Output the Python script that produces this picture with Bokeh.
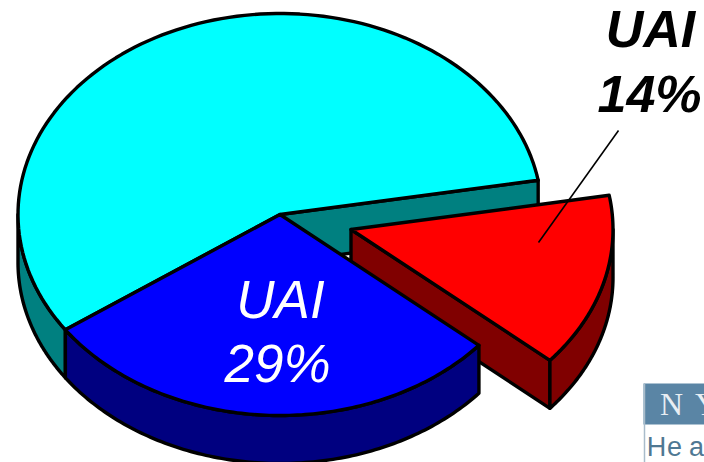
import numpy as np
from bokeh.plotting import figure
from bokeh.models import Range1d
from bokeh.core.properties import value
from bokeh.embed import file_html
from bokeh.resources import INLINE

# Pie slices, in the order they run anticlockwise from the start angle
slice_names = ["other", "UAI exploded", "UAI"]
shares = [57, 14, 29]
label_texts = ["UAI", "14%", "UAI", "29%"]
top_colors = {"other": "#00ffff", "UAI exploded": "#ff0000", "UAI": "#0000ff"}
side_colors = {"other": "#008080", "UAI exploded": "#800000", "UAI": "#000080"}

# Pie geometry in page pixels
CX, CY = 279.5, 214
RX, RY = 262, 201
DEPTH = 48
START_DEG = 9.8
EXPLODE = {"other": (0, 0), "UAI exploded": (71, 15), "UAI": (0, 0)}
EDGE = 3.4

# The SVG text baseline sits this fraction of an em below the requested y
BASELINE_SHIFT = 0.43

p = figure(width=704, height=462, output_backend="svg", toolbar_location=None,
           x_range=Range1d(0, 704), y_range=Range1d(462, 0), min_border=0)
p.axis.visible = False
p.grid.visible = False
p.outline_line_color = None


def rim(t0, t1, dx=0, dy=0, n=120):
    t = np.radians(np.linspace(t0, t1, n))
    return CX + dx + RX * np.cos(t), CY + dy - RY * np.sin(t)


def outline(xs, ys, fill):
    p.patch(list(xs), list(ys), fill_color=fill, line_color="black",
            line_width=EDGE, line_join="round")


def top(t0, t1, dx, dy, fill):
    x, y = rim(t0, t1, dx, dy)
    outline(np.r_[CX + dx, x], np.r_[CY + dy, y], fill)


def outer_wall(t0, t1, dx, dy, fill):
    x, y = rim(t0, t1, dx, dy)
    outline(np.r_[x, x[::-1]], np.r_[y, y[::-1] + DEPTH], fill)


def cut_wall(t, dx, dy, fill):
    x, y = rim(t, t, dx, dy, n=1)
    xs = [CX + dx, x[0], x[0], CX + dx]
    ys = [CY + dy, y[0], y[0] + DEPTH, CY + dy + DEPTH]
    outline(xs, ys, fill)


def label(xs, baselines, texts, color, size, font, style="normal"):
    ys = [b - BASELINE_SHIFT * size for b in baselines]
    p.text(xs, ys, text=texts, text_color=color, text_font=value(font),
           text_font_size=f"{size}px", text_font_style=style,
           text_align="center", text_baseline="alphabetic")


# Slice boundaries in degrees, measured anticlockwise from the start angle
# (the exploded slice runs clockwise from it, the large one anticlockwise)
large, small, mid = shares
a_small_end = START_DEG - small * 3.6
a_mid_end = a_small_end - mid * 3.6

# Large slice: outer wall at lower left, cut face at the back, then its top
outer_wall(180, a_mid_end + 360, 0, 0, side_colors["other"])
cut_wall(START_DEG, 0, 0, side_colors["other"])
top(START_DEG, a_mid_end + 360, 0, 0, top_colors["other"])

# Exploded slice
dx, dy = EXPLODE["UAI exploded"]
cut_wall(a_small_end, dx, dy, side_colors["UAI exploded"])
outer_wall(a_small_end, 0, dx, dy, side_colors["UAI exploded"])
top(a_small_end, START_DEG, dx, dy, top_colors["UAI exploded"])

# Front slice
outer_wall(a_mid_end, a_small_end, 0, 0, side_colors["UAI"])
top(a_mid_end, a_small_end, 0, 0, top_colors["UAI"])

# Leader line for the exploded slice
p.line([618, 538], [130, 242], line_color="black", line_width=1.6)

# Slice labels
label([650, 649], [51, 116], label_texts[:2], "black", 52,
      "Liberation Sans", "bold italic")
label([280, 277], [322, 386], label_texts[2:], "white", 53,
      "Liberation Sans", "italic")

# Institution logo, cropped by the page edge
LOGO = "#5a85a5"
p.quad(left=[643], right=[720], top=[383], bottom=[424], fill_color=LOGO, line_color=None)
p.line([644, 644], [383, 470], line_color="#a9bccb", line_width=1.5)
label([671, 706], [417, 417], ["N", "Y"], "#e8eef3", 32, "Liberation Serif")
label([656, 674, 696], [458, 458, 458], ["H", "e", "a"], "#4f7893", 27,
      "Liberation Sans")

open("out.html", "w").write(file_html(p, INLINE))
